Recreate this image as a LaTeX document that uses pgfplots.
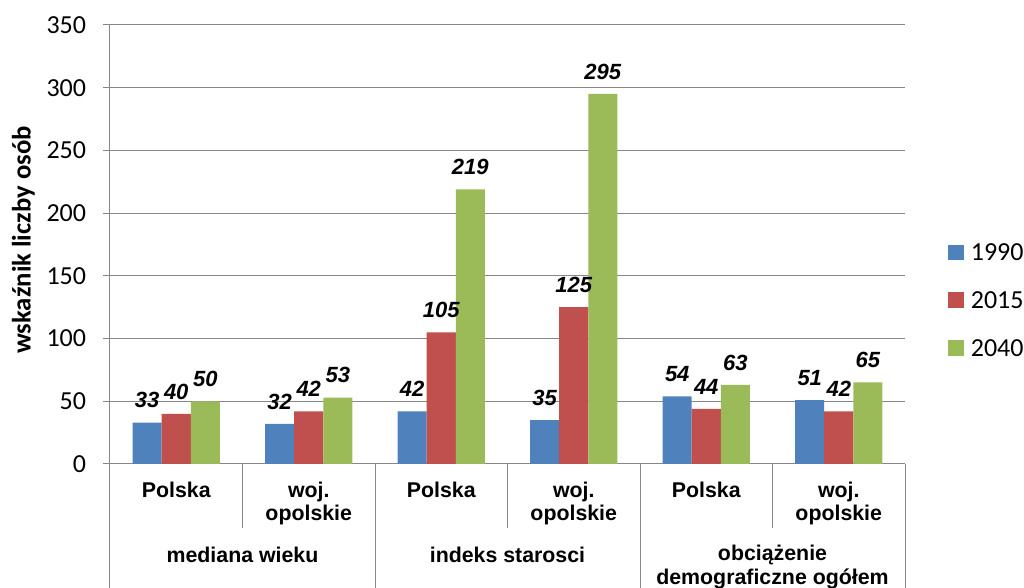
\documentclass[border=0pt]{standalone}
\usepackage{pgfplots}
\pgfplotsset{compat=1.18}
\usepackage{fontspec}
\setmainfont{Liberation Sans}
\newfontfamily\calibri{Carlito}
\definecolor{c1}{HTML}{4F81BD}
\definecolor{c2}{HTML}{C0504D}
\definecolor{c3}{HTML}{9BBB59}
\definecolor{axgray}{HTML}{878787}
\begin{document}
\begin{tikzpicture}
\path[use as bounding box] (-82.5pt,-93pt) rectangle (685.5pt,348pt);
\begin{axis}[
  at={(0pt,0pt)}, anchor=south west,
  scale only axis, width=596.25pt, height=329.25pt,
  xmin=-0.5, xmax=5.5, ymin=0, ymax=350,
  clip=false,
  axis x line*=bottom, axis y line*=left,
  xtick=\empty,
  ytick={0,50,...,350},
  ymajorgrids, grid style={axgray, line width=0.75pt},
  axis line style={axgray, line width=0.75pt},
  tick style={axgray, line width=0.75pt},
  tick align=outside, major tick length=5.25pt,
  /pgf/number format/assume math mode=true,
  yticklabel style={font=\calibri\fontsize{19.5}{19.5}\selectfont, anchor=east, inner sep=0pt, xshift=-12.5pt},
  ylabel={wskaźnik liczby osób},
  ylabel style={font=\calibri\bfseries\fontsize{20}{20}\selectfont, at={([xshift=-65pt]rel axis cs:0,0.51)}, anchor=center},
  ybar,
  bar width=0.219,
  nodes near coords,
  nodes near coords style={font=\bfseries\itshape\fontsize{16.5}{17}\selectfont, anchor=base, inner sep=0pt, yshift=11pt, text=black},
  legend style={at={(rel axis cs:1.054,0.371)}, anchor=west, draw=none, fill=none, inner sep=0pt, row sep=21.75pt,
     font=\calibri\fontsize{19.5}{19.5}\selectfont, nodes={inner sep=0pt},
     /tikz/every odd column/.append style={column sep=5.5pt}},
  legend cell align=left,
  sq/.style={legend image code/.code={\fill[##1] (0pt,-5pt) rectangle (11.5pt,6.5pt);}},
]
\addplot[bar shift=-0.219, fill=c1, draw=none, sq] coordinates {(0,33) (1,32) (2,42) (3,35) (4,54) (5,51)};
\addlegendentry{1990}
\addplot[bar shift=0, fill=c2, draw=none, sq] coordinates {(0,40) (1,42) (2,105) (3,125) (4,44) (5,42)};
\addlegendentry{2015}
\addplot[bar shift=0.219, fill=c3, draw=none, sq] coordinates {(0,50) (1,53) (2,219) (3,295) (4,63) (5,65)};
\addlegendentry{2040}
% category table lines
\pgfplotsinvokeforeach{0.5,2.5,4.5}{
  \draw[axgray, line width=0.75pt] (axis cs:#1,0) -- ([yshift=-48pt]axis cs:#1,0);
}
\pgfplotsinvokeforeach{-0.5,1.5,3.5,5.5}{
  \draw[axgray, line width=0.75pt] (axis cs:#1,0) -- ([yshift=-95pt]axis cs:#1,0);
}
\draw[axgray, line width=0.75pt] (axis cs:-0.5,0) -- ([xshift=-5.25pt]axis cs:-0.5,0);
% sub-category labels
\pgfplotsinvokeforeach{0,2,4}{
  \node[font=\bfseries\fontsize{16}{18}\selectfont, anchor=base, inner sep=0pt] at ([yshift=-25.5pt]axis cs:#1,0) {Polska};
}
\pgfplotsinvokeforeach{1,3,5}{
  \node[font=\bfseries\fontsize{16}{18}\selectfont, anchor=base, inner sep=0pt] at ([yshift=-25.5pt]axis cs:#1,0) {woj.};
  \node[font=\bfseries\fontsize{16}{18}\selectfont, anchor=base, inner sep=0pt] at ([yshift=-42pt]axis cs:#1,0) {opolskie};
}
% main category labels
\node[font=\bfseries\fontsize{16}{18}\selectfont, anchor=base, inner sep=0pt] at ([yshift=-73.5pt]axis cs:0.5,0) {mediana wieku};
\node[font=\bfseries\fontsize{16}{18}\selectfont, anchor=base, inner sep=0pt] at ([yshift=-73.5pt]axis cs:2.5,0) {indeks starosci};
\node[font=\bfseries\fontsize{16}{18}\selectfont, anchor=base, inner sep=0pt] at ([yshift=-72pt]axis cs:4.5,0) {obciążenie};
\node[font=\bfseries\fontsize{16}{18}\selectfont, anchor=base, inner sep=0pt] at ([yshift=-90pt]axis cs:4.5,0) {demograficzne ogółem};
\end{axis}
\end{tikzpicture}
\end{document}
